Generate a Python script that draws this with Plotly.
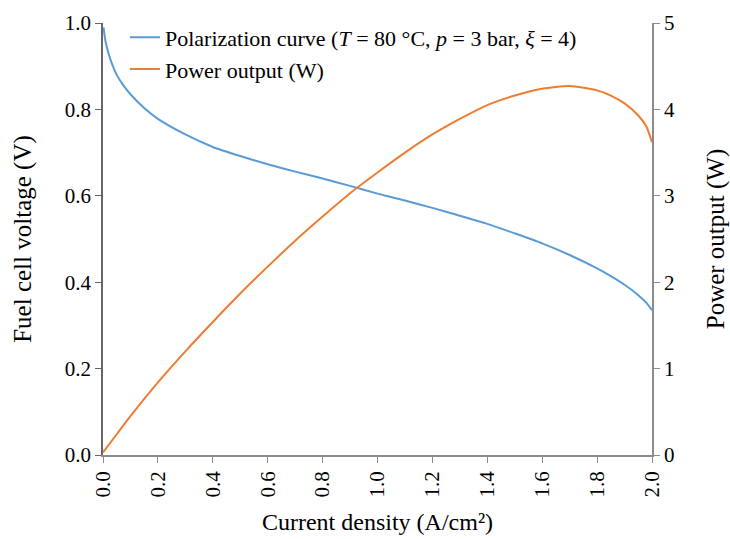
import plotly.graph_objects as go

# Polarization curve data (current density A/cm², voltage V)
i_v = [0.002, 0.005, 0.01, 0.02, 0.03, 0.05, 0.075, 0.1, 0.15, 0.2, 0.3, 0.4, 0.5, 0.6, 0.7,
       0.8, 0.9, 1.0, 1.1, 1.2, 1.3, 1.4, 1.5, 1.6, 1.7, 1.8, 1.85, 1.9, 1.95, 1.98, 2.0]
voltage = [0.99, 0.975, 0.955, 0.93, 0.91, 0.88, 0.855, 0.835, 0.803, 0.778, 0.742, 0.713,
           0.692, 0.673, 0.656, 0.64, 0.623, 0.605, 0.589, 0.572, 0.554, 0.535, 0.513, 0.49,
           0.463, 0.432, 0.414, 0.394, 0.37, 0.352, 0.335]

# Power output data (current density A/cm², power W)
i_p = [0.0, 0.05, 0.1, 0.2, 0.3, 0.4, 0.5, 0.6, 0.7, 0.8, 0.9, 1.0, 1.1, 1.2, 1.3, 1.4, 1.5,
       1.6, 1.7, 1.8, 1.85, 1.9, 1.95, 1.98, 2.0]
power = [0.03, 0.24, 0.45, 0.84, 1.2, 1.54, 1.87, 2.18, 2.48, 2.76, 3.03, 3.27, 3.50, 3.71,
         3.89, 4.05, 4.16, 4.24, 4.27, 4.22, 4.16, 4.07, 3.93, 3.8, 3.62]

x_ticks = [0.0, 0.2, 0.4, 0.6, 0.8, 1.0, 1.2, 1.4, 1.6, 1.8, 2.0]
y_ticks = [0.0, 0.2, 0.4, 0.6, 0.8, 1.0]
y2_ticks = [0, 1, 2, 3, 4, 5]

FONT = "Liberation Serif"
AX = "#8c8c8c"

fig = go.Figure()
fig.add_trace(go.Scatter(
    x=i_v, y=voltage, mode="lines", line=dict(color="#5b9bd5", width=2, shape="spline", smoothing=0.6),
    name="Polarization curve (<i>T</i> = 80 °C, <i>p</i> = 3 bar, <i>ξ</i> = 4)"))
fig.add_trace(go.Scatter(
    x=i_p, y=power, mode="lines", line=dict(color="#ed7d31", width=2, shape="spline", smoothing=0.6),
    name="Power output (W)", yaxis="y2"))

fig.update_layout(
    width=730, height=539,
    margin=dict(l=103, r=78, t=23, b=84),
    paper_bgcolor="white", plot_bgcolor="white",
    font=dict(family=FONT, size=21, color="black"),
    showlegend=True,
    legend=dict(x=0.04, y=1.015, xanchor="left", yanchor="top", bgcolor="rgba(0,0,0,0)",
                font=dict(family=FONT, size=22), tracegroupgap=0, itemwidth=30),
    xaxis=dict(range=[0, 2.0], tickvals=x_ticks, ticktext=[f"{v:.1f}" for v in x_ticks],
               tickangle=-90, ticks="outside", ticklen=6, tickcolor=AX, showline=True,
               linecolor=AX, linewidth=1.5, showgrid=False, zeroline=False, automargin=False,
               title=dict(text="Current density (A/cm²)", font=dict(size=24), standoff=17)),
    yaxis=dict(range=[0, 1.0], tickvals=y_ticks, ticktext=[f"{v:.1f}" for v in y_ticks],
               ticks="outside", ticklen=6, tickcolor="#666666", showline=True, linecolor="#666666",
               linewidth=1.5, showgrid=False, zeroline=False, automargin=False,
               title=dict(text="Fuel cell voltage (V)", font=dict(size=25), standoff=26)),
    yaxis2=dict(range=[0, 5], tickvals=y2_ticks, overlaying="y", side="right",
                ticks="outside", ticklen=6, tickcolor=AX, showline=True, linecolor=AX,
                linewidth=1.5, showgrid=False, zeroline=False, automargin=False,
                title=dict(text="Power output (W)", font=dict(size=25), standoff=33)),
)

fig.write_html("out.html")
